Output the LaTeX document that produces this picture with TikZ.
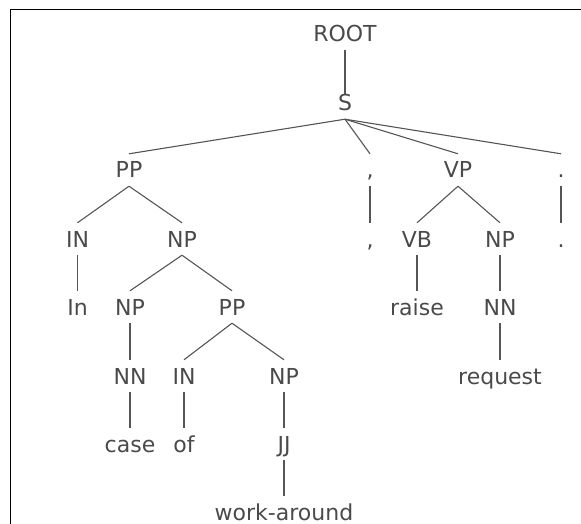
\documentclass[tikz,border=0pt]{standalone}
\usepackage{fontspec}
\setmainfont{DejaVu Sans}
\definecolor{textgrey}{HTML}{4A4A4A}
\definecolor{linegrey}{HTML}{555555}
\begin{document}
\begin{tikzpicture}[x=1pt,y=-1pt,
  lab/.style={inner xsep=2pt, inner ysep=8pt, text height=16pt, text depth=0pt,
    text=textgrey, font=\fontsize{22}{26}\selectfont},
  edge/.style={draw=linegrey, line width=1.1pt}]
\useasboundingbox (0,0) rectangle (581,524);
\draw[black, line width=1pt] (10.5,524) -- (10.5,9.5) -- (581,9.5);
% row 0-1
\node[lab] (root) at (345,33.5) {ROOT};
\node[lab] (s) at (345,103) {S};
% row 2
\node[lab] (pp1) at (129,170) {PP};
\node[lab] (cm1) at (370,170) {,};
\node[lab] (vp) at (458,170) {VP};
\node[lab] (dt1) at (561,170) {.};
% row 3
\node[lab] (in1) at (77.5,239) {IN};
\node[lab] (np1) at (182,239) {NP};
\node[lab] (cm2) at (370,239) {,};
\node[lab] (vb) at (417,239) {VB};
\node[lab] (np2) at (500,239) {NP};
\node[lab] (dt2) at (561,239) {.};
% row 4
\node[lab] (inw) at (77.5,307) {In};
\node[lab] (np3) at (130,307) {NP};
\node[lab] (pp2) at (232,307) {PP};
\node[lab] (raise) at (417,307) {raise};
\node[lab] (nn1) at (500,307) {NN};
% row 5
\node[lab] (nn2) at (130,376) {NN};
\node[lab] (in2) at (184,376) {IN};
\node[lab] (np4) at (284,376) {NP};
\node[lab] (req) at (500,376) {request};
% row 6
\node[lab] (case) at (130,444) {case};
\node[lab] (of) at (184,444) {of};
\node[lab] (jj) at (284,444) {JJ};
% row 7
\node[lab] (wa) at (284,512) {work-around};
% edges
\draw[edge] (root.south) -- ([yshift=-7pt]s.north);
\foreach \c in {pp1,cm1,vp,dt1} \draw[edge] (s.south) -- (\c.north);
\draw[edge] (pp1.south) -- (in1.north);
\draw[edge] (pp1.south) -- (np1.north);
\draw[edge] (cm1.south) -- (cm2.north);
\draw[edge] (vp.south) -- (vb.north);
\draw[edge] (vp.south) -- (np2.north);
\draw[edge] (dt1.south) -- (dt2.north);
\draw[edge] (in1.south) -- (inw.north);
\draw[edge] (np1.south) -- (np3.north);
\draw[edge] (np1.south) -- (pp2.north);
\draw[edge] (vb.south) -- (raise.north);
\draw[edge] (np2.south) -- (nn1.north);
\draw[edge] (np3.south) -- (nn2.north);
\draw[edge] (pp2.south) -- (in2.north);
\draw[edge] (pp2.south) -- (np4.north);
\draw[edge] (nn1.south) -- (req.north);
\draw[edge] (nn2.south) -- (case.north);
\draw[edge] (in2.south) -- (of.north);
\draw[edge] (np4.south) -- (jj.north);
\draw[edge] (jj.south) -- (wa.north);
\end{tikzpicture}
\end{document}
